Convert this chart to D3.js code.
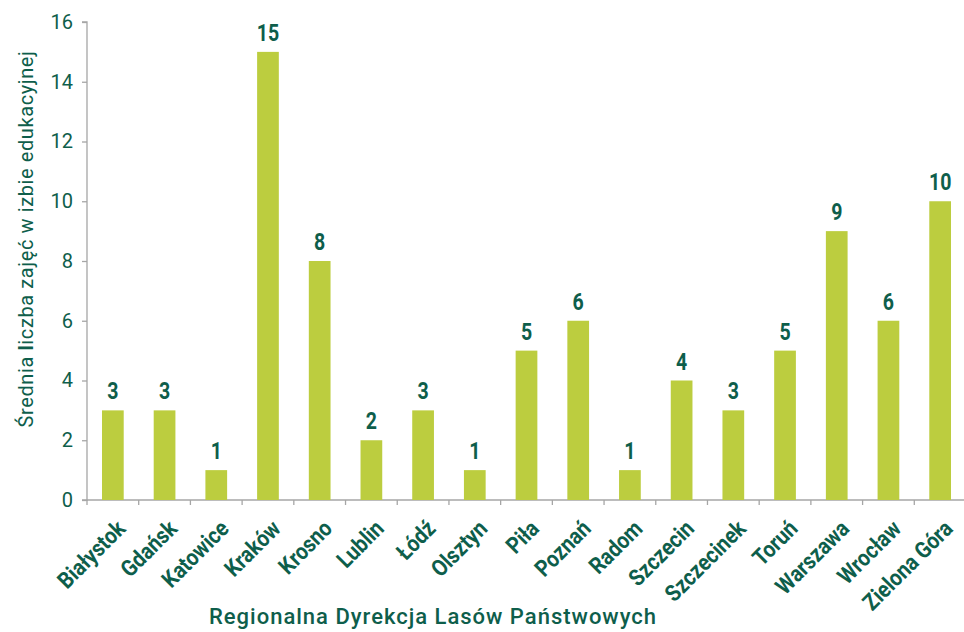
<!DOCTYPE html>
<html><head><meta charset="utf-8">
<script src="https://cdn.jsdelivr.net/npm/d3@7"></script>
<style>body{margin:0;background:#fff}svg{display:block}text{font-family:Roboto,"Noto Sans",sans-serif}</style>
</head><body><svg id="c" width="964" height="632"></svg>
<script>
const categories = ["Białystok","Gdańsk","Katowice","Kraków","Krosno","Lublin","Łódź","Olsztyn","Piła","Poznań","Radom","Szczecin","Szczecinek","Toruń","Warszawa","Wrocław","Zielona Góra"];
const values = [3,3,1,15,8,2,3,1,5,6,1,4,3,5,9,6,10];
const yTicks = [0,2,4,6,8,10,12,14,16];
const yTitleParts = ["Średnia ", "l", "iczba zajęć w izbie edukacyjnej"];
const xTitle = "Regionalna Dyrekcja Lasów Państwowych";

const green = "#0e5e4b", bar = "#bccd3f", axisCol = "#a6a6a6";
const svg = d3.select("#c");
const mLeft = 87, mRight = 966, mTop = 22, mBottom = 500;
const x = d3.scaleBand().domain(categories).range([mLeft, mRight]).paddingInner(0.58).paddingOuter(0.29);
const xb = d3.scaleBand().domain(categories).range([mLeft, mRight]);
const y = d3.scaleLinear().domain([0,16]).range([mBottom, mTop]);

// y axis
const ya = svg.append("g").attr("transform", `translate(${mLeft},0)`)
  .call(d3.axisLeft(y).tickValues(yTicks).tickSize(5).tickPadding(9));
ya.selectAll("path,line").attr("stroke", axisCol).attr("stroke-width", 1.3);
ya.select(".domain").attr("d", `M-5,${mTop}H0V${mBottom}H-5`);
ya.selectAll("text").attr("fill", green).attr("font-size", 20).attr("font-family","Roboto");

// x axis line and ticks at band boundaries
svg.append("line").attr("x1", mLeft).attr("x2", 964).attr("y1", mBottom).attr("y2", mBottom).attr("stroke", axisCol).attr("stroke-width",1.3);
svg.append("g").selectAll("line").data(categories).join("line")
  .attr("x1", d => xb(d)).attr("x2", d => xb(d)).attr("y1", mBottom).attr("y2", mBottom+5)
  .attr("stroke", axisCol).attr("stroke-width",1.3);

// bars
svg.append("g").selectAll("rect").data(values).join("rect")
  .attr("x", (d,i) => x(categories[i])).attr("width", x.bandwidth())
  .attr("y", d => y(d)).attr("height", d => y(0) - y(d)).attr("fill", bar);

// value labels (condensed bold)
svg.append("g").selectAll("text").data(values).join("text")
  .attr("transform", (d,i) => `translate(${x(categories[i]) + x.bandwidth()/2},${y(d) - 11}) scale(0.85,1)`)
  .attr("text-anchor","middle").attr("font-size", 23).attr("font-weight", "bold").attr("fill", green)
  .text(d => d);

// category labels
svg.append("g").selectAll("text").data(categories).join("text")
  .attr("transform", d => `translate(${xb(d) + xb.bandwidth()/2 + 14},${mBottom + 30}) rotate(-45) scale(0.88,1)`)
  .attr("text-anchor","end").attr("font-size", 23).attr("font-weight","bold").attr("fill", green)
  .text(d => d);

// y title
const yt = svg.append("text").attr("transform", `translate(33,239) rotate(-90)`)
  .attr("text-anchor","middle").attr("font-size", 20).attr("letter-spacing", 0.6).attr("fill", green);
yt.selectAll("tspan").data(yTitleParts).join("tspan")
  .attr("font-weight", (d,i) => i === 1 ? "bold" : null).text(d => d);

// x title
svg.append("text").attr("x", 433).attr("y", 624).attr("text-anchor","middle")
  .attr("font-size", 22).attr("font-weight", 500).attr("letter-spacing", 1).attr("fill", green).text(xTitle);
</script></body></html>
